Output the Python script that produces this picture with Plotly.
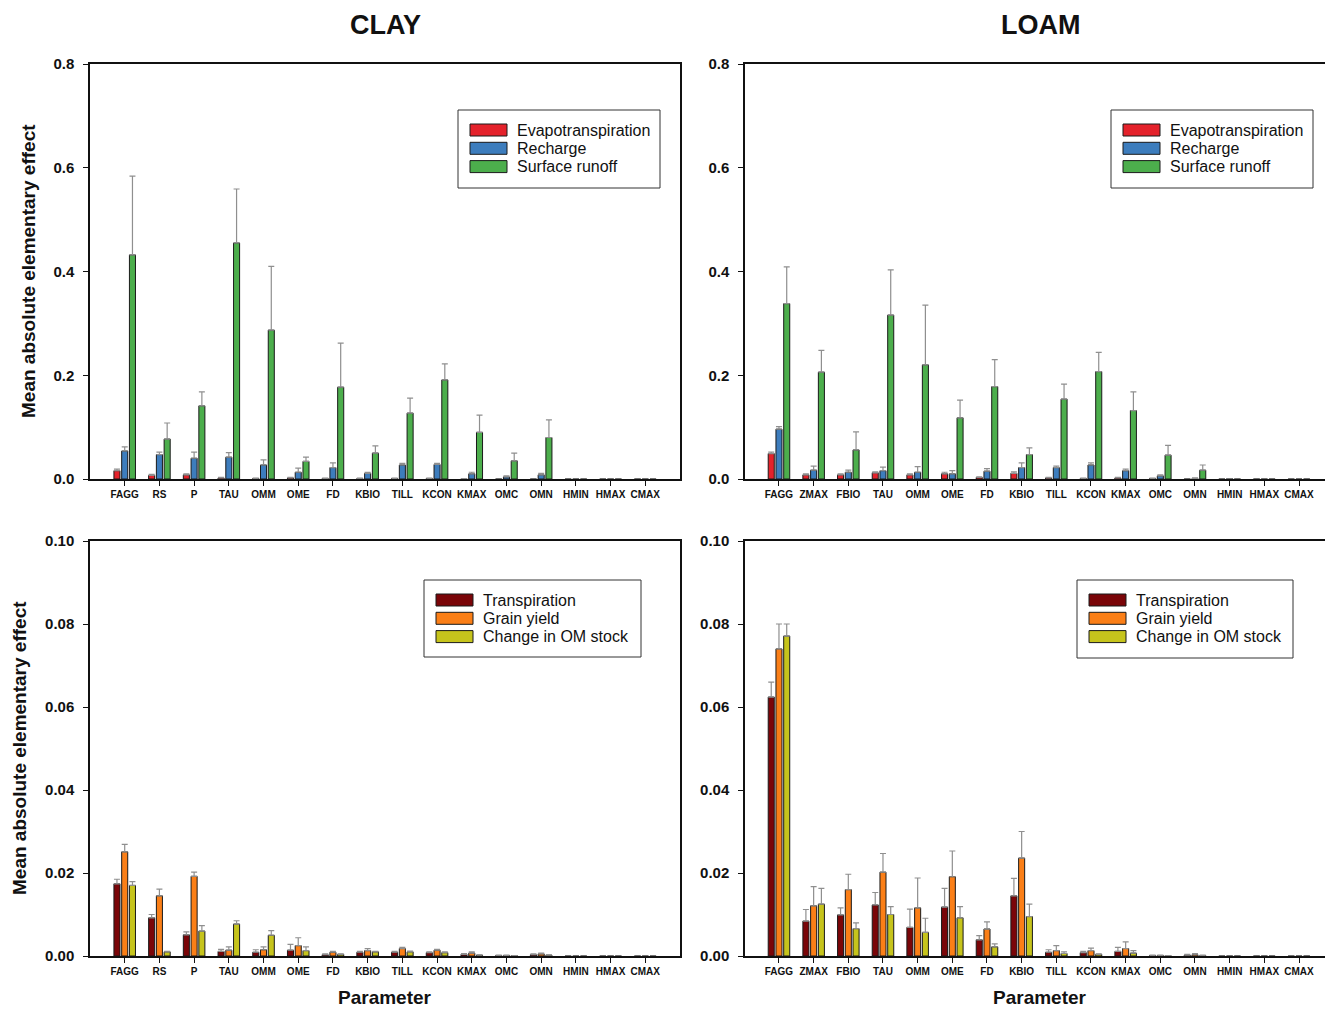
import plotly.graph_objects as go

# ---------------- data ----------------
params_clay = ["FAGG", "RS", "P", "TAU", "OMM", "OME", "FD", "KBIO", "TILL",
               "KCON", "KMAX", "OMC", "OMN", "HMIN", "HMAX", "CMAX"]
params_loam = ["FAGG", "ZMAX", "FBIO", "TAU", "OMM", "OME", "FD", "KBIO", "TILL",
               "KCON", "KMAX", "OMC", "OMN", "HMIN", "HMAX", "CMAX"]

water_names = ["Evapotranspiration", "Recharge", "Surface runoff"]
crop_names = ["Transpiration", "Grain yield", "Change in OM stock"]

# Clay – water balance outputs (mean |EE| and error)
clay_et = [0.016, 0.007, 0.008, 0.002, 0.001, 0.002, 0.001, 0.001, 0.001, 0.001, 0.0005, 0, 0, 0, 0, 0]
clay_et_err = [0.003, 0.002, 0.002, 0.001, 0.0005, 0.001, 0.0005, 0.0005, 0.0005, 0.0005, 0.0005, 0, 0, 0, 0, 0]
clay_rech = [0.054, 0.047, 0.040, 0.042, 0.027, 0.013, 0.022, 0.011, 0.027, 0.028, 0.010, 0.004, 0.008, 0, 0, 0]
clay_rech_err = [0.008, 0.005, 0.012, 0.009, 0.010, 0.008, 0.009, 0.002, 0.003, 0.002, 0.003, 0.002, 0.003, 0, 0, 0]
clay_runoff = [0.432, 0.077, 0.141, 0.455, 0.287, 0.034, 0.177, 0.050, 0.127, 0.191, 0.090, 0.035, 0.080, 0, 0, 0]
clay_runoff_err = [0.152, 0.031, 0.027, 0.104, 0.123, 0.008, 0.085, 0.014, 0.029, 0.031, 0.033, 0.015, 0.034, 0, 0, 0]

# Loam – water balance outputs
loam_et = [0.049, 0.008, 0.008, 0.012, 0.008, 0.010, 0.003, 0.011, 0.002, 0.001, 0.002, 0.001, 0, 0, 0, 0]
loam_et_err = [0.003, 0.002, 0.002, 0.002, 0.002, 0.003, 0.001, 0.003, 0.001, 0.0005, 0.001, 0.0005, 0, 0, 0, 0]
loam_rech = [0.096, 0.017, 0.013, 0.016, 0.013, 0.010, 0.015, 0.022, 0.022, 0.027, 0.016, 0.006, 0.001, 0.0005, 0, 0]
loam_rech_err = [0.005, 0.008, 0.004, 0.007, 0.011, 0.006, 0.005, 0.009, 0.003, 0.004, 0.003, 0.002, 0.001, 0, 0, 0]
loam_runoff = [0.338, 0.206, 0.056, 0.316, 0.220, 0.118, 0.178, 0.047, 0.154, 0.207, 0.132, 0.046, 0.017, 0, 0, 0]
loam_runoff_err = [0.071, 0.042, 0.035, 0.087, 0.115, 0.034, 0.052, 0.013, 0.029, 0.037, 0.036, 0.019, 0.010, 0, 0, 0]

# Clay – crop / soil outputs
clay_transp = [0.0174, 0.0092, 0.0051, 0.0011, 0.0009, 0.0014, 0.0003, 0.0009, 0.0009, 0.0008, 0.0004, 0.0001, 0.0003, 0, 0, 0]
clay_transp_err = [0.0011, 0.0008, 0.0007, 0.0005, 0.0006, 0.0014, 0.0002, 0.0002, 0.0002, 0.0002, 0.0002, 0.0001, 0.0002, 0, 0, 0]
clay_grain = [0.0251, 0.0145, 0.0192, 0.0014, 0.0015, 0.0025, 0.0009, 0.0013, 0.0018, 0.0014, 0.0007, 0.0001, 0.0005, 0, 0, 0]
clay_grain_err = [0.0018, 0.0016, 0.0010, 0.0008, 0.0007, 0.0019, 0.0002, 0.0005, 0.0003, 0.0002, 0.0003, 0.0001, 0.0002, 0, 0, 0]
clay_om = [0.0170, 0.0010, 0.0060, 0.0077, 0.0050, 0.0013, 0.0004, 0.0010, 0.0010, 0.0008, 0.0002, 0.0001, 0.0002, 0, 0, 0]
clay_om_err = [0.0009, 0.0001, 0.0013, 0.0008, 0.0011, 0.0009, 0.0001, 0.0001, 0.0002, 0.0002, 0.0001, 0, 0.0001, 0, 0, 0]

# Loam – crop / soil outputs
loam_transp = [0.0624, 0.0084, 0.0099, 0.0123, 0.0069, 0.0118, 0.0039, 0.0145, 0.0009, 0.0008, 0.0011, 0.0001, 0.0002, 0, 0, 0]
loam_transp_err = [0.0036, 0.0028, 0.0017, 0.0030, 0.0044, 0.0045, 0.0010, 0.0042, 0.0006, 0.0003, 0.0010, 0.0001, 0.0002, 0, 0, 0]
loam_grain = [0.0740, 0.0121, 0.0160, 0.0202, 0.0116, 0.0191, 0.0065, 0.0236, 0.0013, 0.0013, 0.0018, 0.0001, 0.0003, 0, 0, 0]
loam_grain_err = [0.0060, 0.0046, 0.0037, 0.0045, 0.0072, 0.0062, 0.0017, 0.0064, 0.0012, 0.0006, 0.0016, 0.0001, 0.0003, 0, 0, 0]
loam_om = [0.0771, 0.0125, 0.0066, 0.0100, 0.0057, 0.0092, 0.0022, 0.0095, 0.0006, 0.0004, 0.0007, 0.0001, 0.0001, 0, 0, 0]
loam_om_err = [0.0029, 0.0038, 0.0014, 0.0019, 0.0034, 0.0027, 0.0007, 0.0030, 0.0004, 0.0001, 0.0006, 0, 0.0001, 0, 0, 0]

water_colors = ["#e4222b", "#3d7dbd", "#4cae4c"]
crop_colors = ["#7a0508", "#fb7f17", "#c6c41c"]

# ---------------- layout helpers (pixel -> paper) ----------------
W, H = 1325, 1012
FONT = "Liberation Sans, Arial, sans-serif"


def px(x):
    return x / W


def py(y):
    return 1 - y / H


fig = go.Figure()

panels = [
    # axis suffix, categories, series, errors, names, colors
    ("", params_clay, [clay_et, clay_rech, clay_runoff],
     [clay_et_err, clay_rech_err, clay_runoff_err], water_names, water_colors),
    ("2", params_loam, [loam_et, loam_rech, loam_runoff],
     [loam_et_err, loam_rech_err, loam_runoff_err], water_names, water_colors),
    ("3", params_clay, [clay_transp, clay_grain, clay_om],
     [clay_transp_err, clay_grain_err, clay_om_err], crop_names, crop_colors),
    ("4", params_loam, [loam_transp, loam_grain, loam_om],
     [loam_transp_err, loam_grain_err, loam_om_err], crop_names, crop_colors),
]

for suffix, cats, series, errs, names, colors in panels:
    for vals, err, name, col in zip(series, errs, names, colors):
        # no whisker for parameters with no effect at all
        plus = [e if (v > 0 or e > 0) else None for v, e in zip(vals, err)]
        fig.add_trace(go.Bar(
            x=cats, y=vals, name=name, showlegend=False,
            xaxis="x" + suffix, yaxis="y" + suffix,
            offsetgroup=name,
            marker=dict(color=col, line=dict(color="#1a1a1a", width=1)),
            error_y=dict(type="data", symmetric=False, array=plus,
                         arrayminus=[0] * len(err), color="#8f8f8f",
                         thickness=1.2, width=3),
        ))

# panel positions in pixels: (left, right, top, bottom)
boxes = {
    "": (90, 680, 64, 479),
    "2": (745, 1325, 64, 479),
    "3": (90, 680, 541, 956),
    "4": (745, 1325, 541, 956),
}
xranges = {"": [-1.0, 16.0], "2": [-0.98, 15.75], "3": [-1.0, 16.0], "4": [-0.98, 15.75]}
yranges = {"": [0, 0.8], "2": [0, 0.8], "3": [0, 0.1], "4": [0, 0.1]}
ydticks = {"": 0.2, "2": 0.2, "3": 0.02, "4": 0.02}
yfmt = {"": ".1f", "2": ".1f", "3": ".2f", "4": ".2f"}

for s, (l, r, t, b) in boxes.items():
    left_panel = s in ("", "3")
    fig.update_layout({
        "xaxis" + s: dict(
            domain=[px(l), px(r)], anchor="y" + s, range=xranges[s],
            showline=True, linecolor="#111", linewidth=1.5, mirror=True,
            ticks="outside", ticklen=5, tickwidth=1.2, tickcolor="#111",
            tickfont=dict(family=FONT, size=10, color="#111", weight="bold"),
            showgrid=False, zeroline=False, fixedrange=True, automargin=False,
        ),
        "yaxis" + s: dict(
            domain=[py(b), py(t)], anchor="x" + s, range=yranges[s],
            dtick=ydticks[s], tick0=0, tickformat=yfmt[s],
            showline=True, linecolor="#111", linewidth=1.5,
            mirror=left_panel,
            ticks="outside", ticklen=5, tickwidth=1.2, tickcolor="#111",
            ticklabelstandoff=6,
            tickfont=dict(family=FONT, size=15, color="#111", weight="bold"),
            showgrid=False, zeroline=False, fixedrange=True, automargin=False,
        ),
    })

# ---------------- legends (drawn as boxes with swatches) ----------------
shapes = []
annotations = []
legend_specs = [
    # box left, top, right, bottom, names, colors
    (458, 110, 660, 188, water_names, water_colors),
    (1111, 110, 1313, 188, water_names, water_colors),
    (424, 580, 641, 657, crop_names, crop_colors),
    (1077, 580, 1293, 658, crop_names, crop_colors),
]
for bl, bt, br, bb, names, colors in legend_specs:
    shapes.append(dict(type="rect", xref="paper", yref="paper",
                       x0=px(bl), x1=px(br), y0=py(bb), y1=py(bt),
                       line=dict(color="#333", width=1), fillcolor="white"))
    for i, (name, col) in enumerate(zip(names, colors)):
        cy = bt + 20 + i * 18.3
        shapes.append(dict(type="rect", xref="paper", yref="paper",
                           x0=px(bl + 12), x1=px(bl + 49),
                           y0=py(cy + 6), y1=py(cy - 6),
                           line=dict(color="#1a1a1a", width=1), fillcolor=col))
        annotations.append(dict(xref="paper", yref="paper", x=px(bl + 57), y=py(cy),
                                text=name, showarrow=False, xanchor="left",
                                yanchor="middle",
                                font=dict(family=FONT, size=16, color="#111")))

# ---------------- titles ----------------
title_font = dict(family=FONT, size=27, color="#111", weight="bold")
label_font = dict(family=FONT, size=19, color="#111", weight="bold")
annotations += [
    dict(xref="paper", yref="paper", x=px(385), y=py(25), text="CLAY",
         showarrow=False, xanchor="center", yanchor="middle", font=title_font),
    dict(xref="paper", yref="paper", x=px(1040), y=py(25), text="LOAM",
         showarrow=False, xanchor="center", yanchor="middle", font=title_font),
    dict(xref="paper", yref="paper", x=px(385), y=py(1010), text="Parameter",
         showarrow=False, xanchor="center", yanchor="bottom", font=label_font),
    dict(xref="paper", yref="paper", x=px(1040), y=py(1010), text="Parameter",
         showarrow=False, xanchor="center", yanchor="bottom", font=label_font),
    dict(xref="paper", yref="paper", x=px(28), y=py(271),
         text="Mean absolute elementary effect", textangle=-90,
         showarrow=False, xanchor="center", yanchor="middle", font=label_font),
    dict(xref="paper", yref="paper", x=px(19), y=py(748),
         text="Mean absolute elementary effect", textangle=-90,
         showarrow=False, xanchor="center", yanchor="middle", font=label_font),
]

fig.update_layout(
    width=W, height=H,
    margin=dict(l=0, r=0, t=0, b=0, pad=0, autoexpand=False),
    paper_bgcolor="white", plot_bgcolor="white",
    barmode="group", bargap=0.33, bargroupgap=0.22,
    font=dict(family=FONT, color="#111"),
    shapes=shapes, annotations=annotations,
    showlegend=False,
)

fig.write_html("out.html", config={"displayModeBar": False})
